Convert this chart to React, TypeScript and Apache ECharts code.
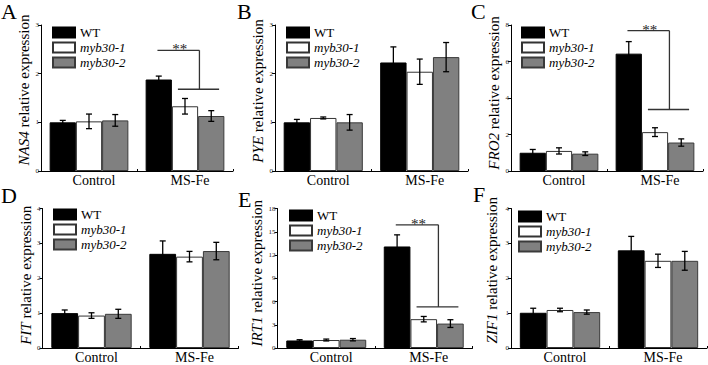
import React, { useEffect, useRef } from "react";
import * as echarts from "echarts";

// Shared categories and genotype names
const categories = ["Control", "MS-Fe"];
const genotypes = ["WT", "myb30-1", "myb30-2"];

// Relative expression: rows = WT, myb30-1, myb30-2; columns = Control, MS-Fe
const nas4Mean = [[1.0, 1.88], [1.02, 1.33], [1.04, 1.13]];
const nas4Err = [[0.04, 0.07], [0.15, 0.16], [0.12, 0.11]];
const nas4Bracket = [2.48, 1.68];

const pyeMean = [[1.0, 2.23], [1.09, 2.04], [1.0, 2.34]];
const pyeErr = [[0.06, 0.32], [0.02, 0.26], [0.16, 0.3]];

const fro2Mean = [[1.0, 6.43], [1.1, 2.13], [0.95, 1.56]];
const fro2Err = [[0.18, 0.66], [0.17, 0.24], [0.1, 0.2]];
const fro2Bracket = [7.69, 3.37];

const fitMean = [[1.0, 2.7], [0.93, 2.62], [0.98, 2.78]];
const fitErr = [[0.09, 0.37], [0.08, 0.15], [0.13, 0.25]];

const irt1Mean = [[0.97, 13.1], [1.03, 3.72], [1.07, 3.15]];
const irt1Err = [[0.1, 1.5], [0.12, 0.35], [0.15, 0.5]];
const irt1Bracket = [15.9, 5.3];

const zif1Mean = [[1.01, 2.8], [1.09, 2.5], [1.03, 2.5]];
const zif1Err = [[0.13, 0.4], [0.05, 0.19], [0.06, 0.27]];

const FONT = "Liberation Serif";
const FILLS = ["#000000", "#ffffff", "#808080"];
const BORDERS = ["#000000", "#333333", "#3a3a3a"];
const CAT_GAP = 0.18;

type Panel = {
  letter: string;
  gene: string;
  mean: number[][];
  err: number[][];
  bracket?: number[];
  max: number;
  interval: number;
  grid: { left: number; top: number; width: number; height: number };
  legend: { left: number; top: number };
  nameGap: number;
  nameShift: number;
  letterPos: [number, number];
};

const panels: Panel[] = [
  { letter: "A", gene: "NAS4", mean: nas4Mean, err: nas4Err, bracket: nas4Bracket, max: 3, interval: 1,
    grid: { left: 41, top: 25, width: 192, height: 146 }, legend: { left: 52, top: 26 }, nameGap: 9, nameShift: 8, letterPos: [1, 0] },
  { letter: "B", gene: "PYE", mean: pyeMean, err: pyeErr, max: 3, interval: 1,
    grid: { left: 275, top: 25, width: 193, height: 146 }, legend: { left: 286, top: 26 }, nameGap: 7, nameShift: 7, letterPos: [237, 0] },
  { letter: "C", gene: "FRO2", mean: fro2Mean, err: fro2Err, bracket: fro2Bracket, max: 8, interval: 2,
    grid: { left: 511, top: 25, width: 192, height: 146 }, legend: { left: 521, top: 26 }, nameGap: 6, nameShift: 5, letterPos: [471, 0] },
  { letter: "D", gene: "FIT", mean: fitMean, err: fitErr, max: 4, interval: 1,
    grid: { left: 42.5, top: 208.5, width: 196, height: 139.5 }, legend: { left: 53, top: 208 }, nameGap: 9, nameShift: 3, letterPos: [1, 184] },
  { letter: "E", gene: "IRT1", mean: irt1Mean, err: irt1Err, bracket: irt1Bracket, max: 18, interval: 3,
    grid: { left: 277.5, top: 208.5, width: 195, height: 139.5 }, legend: { left: 289, top: 209 }, nameGap: 8, nameShift: 5, letterPos: [238, 188] },
  { letter: "F", gene: "ZIF1", mean: zif1Mean, err: zif1Err, max: 4, interval: 1,
    grid: { left: 511, top: 208.5, width: 196, height: 139.5 }, legend: { left: 518, top: 210 }, nameGap: 12, nameShift: 8, letterPos: [473, 183] },
];

function errorBarRenderer(j: number) {
  return (_params: any, api: any) => {
    const k = api.value(0);
    const m = api.value(1);
    const e = api.value(2);
    const band = api.size([1, 0])[0];
    const bw = (band * (1 - CAT_GAP)) / 3;
    const x = api.coord([k, m])[0] + (j - 1) * bw;
    const yt = api.coord([k, m + e])[1];
    const yb = api.coord([k, m - e])[1];
    const cap = 3;
    const style = { stroke: "#000", lineWidth: 1.3 };
    return {
      type: "group",
      children: [
        { type: "line", shape: { x1: x, y1: yt, x2: x, y2: yb }, style },
        { type: "line", shape: { x1: x - cap, y1: yt, x2: x + cap, y2: yt }, style },
        { type: "line", shape: { x1: x - cap, y1: yb, x2: x + cap, y2: yb }, style },
      ],
    };
  };
}

function bracketRenderer(_params: any, api: any) {
  const k = api.value(0);
  const up = api.value(1);
  const low = api.value(2);
  const band = api.size([1, 0])[0];
  const bw = (band * (1 - CAT_GAP)) / 3;
  const c = api.coord([k, up]);
  const yU = c[1];
  const yL = api.coord([k, low])[1];
  const cx = c[0];
  const style = { stroke: "#333", lineWidth: 1.3 };
  const xr = cx + 0.55 * bw;
  return {
    type: "group",
    children: [
      { type: "line", shape: { x1: cx - 1.05 * bw, y1: yU, x2: xr, y2: yU }, style },
      { type: "line", shape: { x1: xr, y1: yU, x2: xr, y2: yL }, style },
      { type: "line", shape: { x1: cx - 0.27 * bw, y1: yL, x2: cx + 1.3 * bw, y2: yL }, style },
      {
        type: "text",
        x: cx - 0.2 * bw,
        y: yU - 1,
        style: { text: "**", fontSize: 15, fontFamily: FONT, fill: "#222", align: "center", verticalAlign: "middle" },
      },
    ],
  };
}

function buildOption() {
  const grid: any[] = [];
  const xAxis: any[] = [];
  const yAxis: any[] = [];
  const legend: any[] = [];
  const series: any[] = [];
  const graphic: any[] = [];

  panels.forEach((p, i) => {
    grid.push({ ...p.grid, containLabel: false });
    xAxis.push({
      type: "category",
      gridIndex: i,
      data: categories,
      boundaryGap: true,
      axisLine: { show: true, lineStyle: { color: "#000", width: 1 } },
      axisTick: { show: true, inside: true, length: 2, lineStyle: { color: "#000" } },
      axisLabel: { color: "#000", fontSize: 14, fontFamily: FONT, margin: 2, padding: [0, 0, 0, 10] },
      splitLine: { show: false },
    });
    yAxis.push({
      type: "value",
      gridIndex: i,
      min: 0,
      max: p.max,
      interval: p.interval,
      axisLine: { show: true, lineStyle: { color: "#000", width: 1 } },
      axisTick: { show: true, length: 3, lineStyle: { color: "#000" } },
      axisLabel: { color: "#222", fontSize: 7, fontFamily: FONT, margin: 2 },
      splitLine: { show: false },
      name: `{g|${p.gene}} relative expression`,
      nameLocation: "middle",
      nameGap: p.nameGap,
      nameTextStyle: {
        color: "#000",
        fontSize: 15,
        fontFamily: FONT,
        padding: [0, 0, 0, p.nameShift * 2],
        rich: { g: { fontStyle: "italic", fontSize: 15, fontFamily: FONT, color: "#000" } },
      },
    });
    legend.push({
      show: true,
      orient: "vertical",
      left: p.legend.left,
      top: p.legend.top,
      padding: 0,
      itemWidth: 22,
      itemHeight: 10,
      itemGap: 2,
      selectedMode: false,
      icon: "rect",
      textStyle: { fontFamily: FONT, fontSize: 13, color: "#000", lineHeight: 11 },
      data: genotypes.map((g, j) =>
        j === 0 ? { name: g } : { name: g, textStyle: { fontStyle: "italic", fontFamily: FONT } }
      ),
    });
    genotypes.forEach((g, j) => {
      series.push({
        type: "bar",
        name: g,
        xAxisIndex: i,
        yAxisIndex: i,
        data: p.mean[j],
        barGap: "0%",
        barCategoryGap: `${CAT_GAP * 100}%`,
        itemStyle: { color: FILLS[j], borderColor: BORDERS[j], borderWidth: 1 },
        silent: true,
      });
    });
    genotypes.forEach((_g, j) => {
      series.push({
        type: "custom",
        xAxisIndex: i,
        yAxisIndex: i,
        z: 10,
        silent: true,
        encode: { x: 0, y: 1 },
        data: p.mean[j].map((m, k) => [k, m, p.err[j][k]]),
        renderItem: errorBarRenderer(j),
      });
    });
    if (p.bracket) {
      series.push({
        type: "custom",
        xAxisIndex: i,
        yAxisIndex: i,
        z: 11,
        silent: true,
        encode: { x: 0, y: 1 },
        data: [[1, p.bracket[0], p.bracket[1]]],
        renderItem: bracketRenderer,
      });
    }
    graphic.push({
      type: "text",
      x: p.letterPos[0],
      y: p.letterPos[1],
      style: { text: p.letter, fontSize: 22, fontFamily: FONT, fill: "#000", verticalAlign: "top" },
    });
  });

  return {
    animation: false,
    backgroundColor: "#fff",
    textStyle: { fontFamily: FONT },
    grid,
    xAxis,
    yAxis,
    legend,
    series,
    graphic,
  };
}

// Every label in the figure is set in a Times-style serif face
const fontRule = `.expr-figure svg text, .expr-figure svg tspan { font-family: "Liberation Serif", "Times New Roman", serif !important; }`;

export default function App() {
  const ref = useRef<HTMLDivElement>(null);
  useEffect(() => {
    if (!ref.current) return;
    const chart = echarts.init(ref.current, undefined, { renderer: "svg" });
    chart.setOption(buildOption() as any);
    return () => chart.dispose();
  }, []);
  return (
    <>
      <style>{fontRule}</style>
      <div
        ref={ref}
        className="expr-figure"
        style={{ position: "fixed", left: 0, top: 0, width: 708, height: 365, background: "#fff" }}
      />
    </>
  );
}
